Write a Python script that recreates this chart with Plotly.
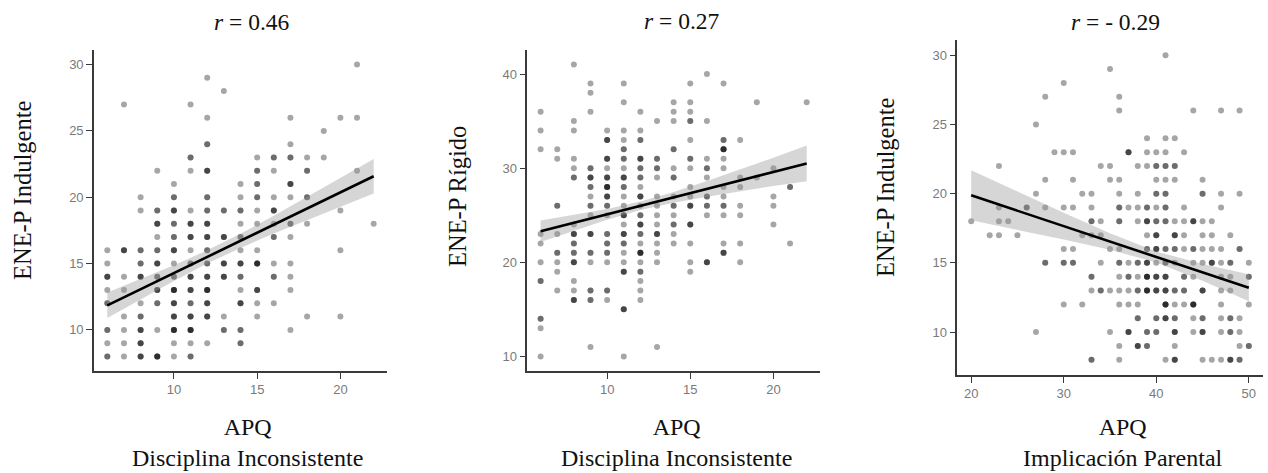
import numpy as np
import plotly.graph_objects as go

# ---------------- data ----------------
# Panel 1: APQ Disciplina Inconsistente vs ENE-P Indulgente  (n = overlapping points)
p1_x = [21, 12, 13, 7, 11, 12, 17, 20, 21, 19, 12, 17,
        11, 15, 16, 17, 18, 19,
        9, 11, 12, 15, 16, 18, 21,
        10, 14, 15, 17,
        8, 10, 12, 14, 15, 16, 17, 18,
        8, 9, 10, 11, 12, 13, 14, 15, 16, 20,
        9, 10, 11, 12, 14, 15, 16, 17, 18, 22,
        9, 10, 11, 12, 13, 14, 16, 17,
        6, 7, 8, 9, 10, 11, 12, 14, 15, 20,
        6, 8, 9, 10, 11, 12, 13, 14, 15, 16, 17,
        6, 7, 8, 9, 10, 11, 12, 13, 14, 16, 17,
        6, 7, 9, 10, 11, 12, 14, 15, 17,
        6, 8, 9, 10, 11, 12, 14, 15, 16,
        7, 8, 10, 11, 12, 13, 15, 18, 20,
        6, 7, 8, 9, 10, 11, 13, 14, 17,
        6, 7, 8, 10, 11, 12, 14,
        6, 7, 8, 9, 10, 11]
p1_y = [30, 29, 28, 27, 27, 26, 26, 26, 26, 25, 24, 24,
        23, 23, 23, 23, 23, 23,
        22, 22, 22, 22, 22, 22, 22,
        21, 21, 21, 21,
        20, 20, 20, 20, 20, 20, 20, 20,
        19, 19, 19, 19, 19, 19, 19, 19, 19, 19,
        18, 18, 18, 18, 18, 18, 18, 18, 18, 18,
        17, 17, 17, 17, 17, 17, 17, 17,
        16, 16, 16, 16, 16, 16, 16, 16, 16, 16,
        15, 15, 15, 15, 15, 15, 15, 15, 15, 15, 15,
        14, 14, 14, 14, 14, 14, 14, 14, 14, 14, 14,
        13, 13, 13, 13, 13, 13, 13, 13, 13,
        12, 12, 12, 12, 12, 12, 12, 12, 12,
        11, 11, 11, 11, 11, 11, 11, 11, 11,
        10, 10, 10, 10, 10, 10, 10, 10, 10,
        9, 9, 9, 9, 9, 9, 9,
        8, 8, 8, 8, 8, 8]
p1_n = [1, 1, 1, 1, 1, 1, 1, 1, 1, 1, 2, 1,
        2, 1, 2, 2, 1, 1,
        1, 1, 3, 2, 1, 2, 1,
        1, 1, 2, 3,
        1, 2, 2, 1, 2, 1, 1, 2,
        1, 2, 3, 1, 2, 2, 2, 1, 3, 1,
        3, 2, 3, 3, 1, 1, 1, 2, 1, 1,
        1, 2, 3, 3, 3, 2, 2, 1,
        1, 3, 2, 2, 3, 1, 2, 1, 1, 1,
        1, 2, 3, 1, 2, 2, 3, 3, 4, 1, 1,
        3, 1, 3, 2, 2, 3, 3, 3, 2, 2, 1,
        1, 1, 3, 4, 3, 4, 1, 3, 1,
        2, 1, 2, 3, 2, 3, 3, 1, 1,
        1, 2, 3, 3, 3, 1, 1, 1, 1,
        2, 1, 3, 1, 4, 4, 2, 2, 1,
        1, 1, 3, 1, 1, 1, 2,
        2, 1, 3, 4, 1, 2]

# Panel 2: APQ Disciplina Inconsistente vs ENE-P Rígido
p2_x = [8, 16, 9, 11, 15, 17, 9,
        11, 14, 15, 19, 22,
        6, 9, 12, 14, 15,
        8, 13, 14, 15, 16,
        6, 8, 10, 11, 12,
        10, 11, 12, 15, 17, 18,
        6, 7, 11, 14, 17,
        7, 8, 10, 11, 12, 13, 15, 16, 17,
        8, 9, 10, 11, 12, 13, 14, 15, 16, 17, 20,
        8, 9, 10, 11, 12, 13, 14, 16, 18, 19,
        9, 10, 11, 12, 15, 17, 18, 21,
        9, 10, 11, 12, 13, 14, 15, 16, 17, 20,
        7, 9, 10, 11, 12, 13, 14, 15, 16, 17, 18, 20,
        9, 10, 11, 12, 13, 14, 16, 17, 18,
        8, 11, 12, 13, 14, 15, 20,
        6, 7, 8, 9, 10, 11, 12, 13, 14,
        6, 8, 10, 11, 12, 13, 14, 15, 17, 18, 21,
        7, 8, 9, 10, 11, 12, 13, 17,
        6, 7, 8, 9, 10, 11, 12, 13, 15, 16, 18,
        7, 11, 12, 15,
        6, 8, 12,
        7, 8, 9, 10, 12,
        8, 9, 10, 12,
        11, 6, 6, 9, 13, 6, 11]
p2_y = [41, 40, 39, 39, 39, 39, 38,
        37, 37, 37, 37, 37,
        36, 36, 36, 36, 36,
        35, 35, 35, 35, 35,
        34, 34, 34, 34, 34,
        33, 33, 33, 33, 33, 33,
        32, 32, 32, 32, 32,
        31, 31, 31, 31, 31, 31, 31, 31, 31,
        30, 30, 30, 30, 30, 30, 30, 30, 30, 30, 30,
        29, 29, 29, 29, 29, 29, 29, 29, 29, 29,
        28, 28, 28, 28, 28, 28, 28, 28,
        27, 27, 27, 27, 27, 27, 27, 27, 27, 27,
        26, 26, 26, 26, 26, 26, 26, 26, 26, 26, 26, 26,
        25, 25, 25, 25, 25, 25, 25, 25, 25,
        24, 24, 24, 24, 24, 24, 24,
        23, 23, 23, 23, 23, 23, 23, 23, 23,
        22, 22, 22, 22, 22, 22, 22, 22, 22, 22, 22,
        21, 21, 21, 21, 21, 21, 21, 21,
        20, 20, 20, 20, 20, 20, 20, 20, 20, 20, 20,
        19, 19, 19, 19,
        18, 18, 18,
        17, 17, 17, 17, 17,
        16, 16, 16, 16,
        15, 14, 13, 11, 11, 10, 10]
p2_n = [1, 1, 1, 1, 1, 1, 1,
        1, 1, 1, 1, 1,
        1, 1, 1, 1, 1,
        1, 1, 1, 2, 1,
        1, 1, 1, 1, 1,
        3, 1, 2, 1, 2, 1,
        1, 1, 2, 2, 4,
        1, 1, 3, 2, 3, 2, 2, 1, 1,
        1, 2, 1, 1, 2, 2, 1, 1, 2, 1, 1,
        2, 3, 3, 3, 2, 1, 2, 1, 1, 1,
        2, 4, 2, 1, 1, 1, 1, 2,
        1, 3, 1, 3, 1, 1, 1, 2, 1, 1,
        2, 2, 2, 1, 1, 1, 2, 3, 2, 2, 1, 1,
        1, 1, 3, 2, 1, 1, 1, 1, 1,
        1, 1, 3, 1, 2, 3, 1,
        1, 1, 3, 3, 2, 3, 2, 3, 1,
        1, 2, 2, 2, 1, 1, 1, 1, 1, 1, 1,
        2, 2, 2, 2, 1, 4, 1, 3,
        1, 1, 3, 1, 1, 1, 1, 1, 1, 3, 1,
        1, 3, 2, 1,
        2, 1, 1,
        1, 1, 2, 2, 1,
        3, 2, 1, 1,
        3, 2, 1, 1, 1, 1, 1]

# Panel 3: APQ Implicación Parental vs ENE-P Indulgente
p3_x = [41, 35, 30, 28, 36, 36, 44, 47, 49, 27, 39, 41, 42,
        29, 30, 31, 37, 39, 40, 41, 43,
        23, 34, 35, 38, 39, 40, 41, 42,
        28, 31, 35, 36, 40, 41, 42, 45,
        27, 32, 33, 36, 38, 40, 41, 45, 47, 49,
        23, 26, 28, 30, 31, 33, 36, 37, 38, 39, 40, 41, 43, 47,
        20, 23, 24, 33, 34, 36, 38, 39, 40, 41, 42, 43, 44, 45, 46,
        22, 23, 25, 32, 33, 34, 39, 40, 42, 43, 45, 46, 48,
        30, 31, 35, 36, 39, 40, 41, 42, 43, 44, 45, 46, 47, 49,
        28, 30, 31, 34, 36, 37, 38, 39, 40, 41, 42, 44, 45, 46, 47, 48, 50,
        33, 36, 37, 38, 39, 40, 41, 43, 44, 47, 48, 50,
        33, 34, 35, 36, 37, 38, 39, 40, 41, 42, 43, 45, 47, 48,
        30, 32, 36, 37, 38, 41, 42, 43, 44, 47, 50,
        38, 40, 41, 42, 44, 45, 47, 48, 49,
        27, 35, 37, 39, 40, 42, 44, 45, 47, 48, 49,
        36, 38, 39, 42, 49, 50,
        33, 36, 41, 42, 45, 46, 47, 48, 49]
p3_y = [30, 29, 28, 27, 27, 26, 26, 26, 26, 25, 24, 24, 24,
        23, 23, 23, 23, 23, 23, 23, 23,
        22, 22, 22, 22, 22, 22, 22, 22,
        21, 21, 21, 21, 21, 21, 21, 21,
        20, 20, 20, 20, 20, 20, 20, 20, 20, 20,
        19, 19, 19, 19, 19, 19, 19, 19, 19, 19, 19, 19, 19, 19,
        18, 18, 18, 18, 18, 18, 18, 18, 18, 18, 18, 18, 18, 18, 18,
        17, 17, 17, 17, 17, 17, 17, 17, 17, 17, 17, 17, 17,
        16, 16, 16, 16, 16, 16, 16, 16, 16, 16, 16, 16, 16, 16,
        15, 15, 15, 15, 15, 15, 15, 15, 15, 15, 15, 15, 15, 15, 15, 15, 15,
        14, 14, 14, 14, 14, 14, 14, 14, 14, 14, 14, 14,
        13, 13, 13, 13, 13, 13, 13, 13, 13, 13, 13, 13, 13, 13,
        12, 12, 12, 12, 12, 12, 12, 12, 12, 12, 12,
        11, 11, 11, 11, 11, 11, 11, 11, 11,
        10, 10, 10, 10, 10, 10, 10, 10, 10, 10, 10,
        9, 9, 9, 9, 9, 9,
        8, 8, 8, 8, 8, 8, 8, 8, 8]
p3_n = [1, 1, 1, 1, 1, 1, 1, 1, 1, 1, 1, 1, 1,
        1, 1, 1, 3, 1, 1, 1, 1,
        1, 1, 1, 1, 1, 2, 2, 2,
        1, 1, 1, 1, 1, 1, 1, 1,
        1, 1, 1, 1, 1, 2, 2, 2, 1, 1,
        1, 2, 1, 1, 1, 1, 2, 1, 1, 2, 1, 2, 1, 1,
        1, 1, 1, 2, 1, 2, 1, 3, 2, 2, 1, 1, 3, 1, 1,
        1, 1, 1, 1, 1, 1, 1, 3, 3, 1, 1, 1, 1,
        1, 1, 1, 1, 2, 3, 2, 2, 1, 2, 1, 1, 1, 2,
        2, 2, 2, 1, 2, 1, 2, 3, 1, 2, 1, 1, 1, 3, 1, 2, 1,
        2, 1, 2, 1, 4, 3, 3, 2, 1, 1, 1, 2,
        1, 2, 1, 1, 1, 2, 4, 3, 3, 2, 2, 3, 1, 1,
        1, 1, 1, 1, 1, 4, 1, 1, 4, 1, 1,
        2, 2, 3, 2, 1, 2, 1, 2, 1,
        1, 1, 3, 2, 2, 3, 1, 3, 1, 2, 1,
        1, 3, 2, 1, 1, 2,
        2, 1, 1, 3, 1, 1, 1, 3, 2]

# Fitted lines with 95% bands
p1_fx = [6, 8, 10, 12, 14, 16, 18, 20, 22]
p1_fit = [11.85, 13.07, 14.28, 15.50, 16.71, 17.93, 19.15, 20.36, 21.58]
p1_lo = [10.89, 12.31, 13.69, 15.00, 16.18, 17.26, 18.29, 19.29, 20.28]
p1_hi = [12.81, 13.83, 14.87, 16.00, 17.24, 18.60, 20.01, 21.43, 22.88]

p2_fx = [6, 8, 10, 12, 14, 16, 18, 20, 22]
p2_fit = [23.3, 24.2, 25.1, 26.0, 26.9, 27.8, 28.7, 29.6, 30.5]
p2_lo = [22.15, 23.36, 24.53, 25.55, 26.33, 26.96, 27.55, 28.1, 28.6]
p2_hi = [24.45, 25.04, 25.67, 26.45, 27.47, 28.64, 29.85, 31.1, 32.4]

p3_fx = [20, 25, 30, 35, 40, 45, 50]
p3_fit = [19.88, 18.77, 17.65, 16.54, 15.43, 14.31, 13.2]
p3_lo = [18.07, 17.39, 16.68, 15.94, 15.03, 13.71, 12.23]
p3_hi = [21.69, 20.15, 18.62, 17.14, 15.83, 14.91, 14.17]

titles = ["<i>r</i> = 0.46", "<i>r</i> = 0.27", "<i>r</i> = - 0.29"]
xtitles = ["APQ<br>Disciplina Inconsistente", "APQ<br>Disciplina Inconsistente",
           "APQ<br>Implicación Parental"]
ytitles = ["ENE-P Indulgente", "ENE-P Rígido", "ENE-P Indulgente"]

# ---------------- layout geometry (pixels) ----------------
W, H = 1268, 473
def fx(p): return p / W
def fy(p): return 1 - p / H

panels = [
    dict(x=p1_x, y=p1_y, n=p1_n, fx=p1_fx, fit=p1_fit, lo=p1_lo, hi=p1_hi,
         dom=(94, 387, 50, 371), xr=[5.2, 22.8], yr=[6.9, 31.1],
         xt=[10, 15, 20], yt=[10, 15, 20, 25, 30],
         title_xy=(252, 22), xt_xy=(247, 442), yt_xy=(22, 190)),
    dict(x=p2_x, y=p2_y, n=p2_n, fx=p2_fx, fit=p2_fit, lo=p2_lo, hi=p2_hi,
         dom=(527.3, 820, 50, 371), xr=[5.2, 22.8], yr=[8.45, 42.55],
         xt=[10, 15, 20], yt=[10, 20, 30, 40],
         title_xy=(682, 21), xt_xy=(676, 442), yt_xy=(457, 197)),
    dict(x=p3_x, y=p3_y, n=p3_n, fx=p3_fx, fit=p3_fit, lo=p3_lo, hi=p3_hi,
         dom=(957.3, 1262.7, 40, 375), xr=[18.5, 51.5], yr=[6.9, 31.1],
         xt=[20, 30, 40, 50], yt=[10, 15, 20, 25, 30],
         title_xy=(1115, 22), xt_xy=(1123, 442), yt_xy=(885, 187)),
]

serif = "Liberation Serif, Times New Roman, serif"
sans = "Liberation Sans, Arial, sans-serif"

fig = go.Figure()
layout = dict(width=W, height=H, margin=dict(l=0, r=0, t=0, b=0),
              paper_bgcolor="white", plot_bgcolor="white", showlegend=False)
annotations = []

for i, p in enumerate(panels, start=1):
    xa = "x" if i == 1 else f"x{i}"
    ya = "y" if i == 1 else f"y{i}"
    xs = np.repeat(np.array(p["x"]), p["n"])
    ys = np.repeat(np.array(p["y"]), p["n"])
    fig.add_trace(go.Scatter(x=xs, y=ys, mode="markers", xaxis=xa, yaxis=ya,
                             marker=dict(size=6, color="rgba(0,0,0,0.35)",
                                         line=dict(width=0)),
                             hoverinfo="skip"))
    bx = list(p["fx"]) + list(p["fx"])[::-1]
    by = list(p["hi"]) + list(p["lo"])[::-1]
    fig.add_trace(go.Scatter(x=bx, y=by, mode="lines", fill="toself",
                             fillcolor="rgba(153,153,153,0.4)",
                             line=dict(width=0), xaxis=xa, yaxis=ya,
                             hoverinfo="skip"))
    fig.add_trace(go.Scatter(x=p["fx"], y=p["fit"], mode="lines",
                             line=dict(color="black", width=2.6),
                             xaxis=xa, yaxis=ya, hoverinfo="skip"))
    x0, x1, y0, y1 = p["dom"]
    axcommon = dict(showgrid=False, zeroline=False, showline=True,
                    linecolor="#3a3a3a", linewidth=1.6, ticks="outside",
                    ticklen=6, tickwidth=1.4, tickcolor="#3a3a3a",
                    tickfont=dict(family=sans, size=13, color="#7a7a7a"))
    layout["xaxis" if i == 1 else f"xaxis{i}"] = dict(
        domain=[fx(x0), fx(x1)], anchor=ya, range=p["xr"],
        tickvals=p["xt"], **axcommon)
    layout["yaxis" if i == 1 else f"yaxis{i}"] = dict(
        domain=[fy(y1), fy(y0)], anchor=xa, range=p["yr"],
        tickvals=p["yt"], **axcommon)
    tx, ty = p["title_xy"]
    annotations.append(dict(text=titles[i - 1], x=fx(tx), y=fy(ty),
                            xref="paper", yref="paper", showarrow=False,
                            xanchor="center", yanchor="middle",
                            font=dict(family=serif, size=23.5, color="#111")))
    tx, ty = p["xt_xy"]
    annotations.append(dict(text=xtitles[i - 1], x=fx(tx), y=fy(ty),
                            xref="paper", yref="paper", showarrow=False,
                            xanchor="center", yanchor="middle", align="center",
                            font=dict(family=serif, size=24, color="#111")))
    tx, ty = p["yt_xy"]
    annotations.append(dict(text=ytitles[i - 1], x=fx(tx), y=fy(ty),
                            xref="paper", yref="paper", showarrow=False,
                            xanchor="center", yanchor="middle", textangle=-90,
                            font=dict(family=serif, size=24.5, color="#111")))

layout["annotations"] = annotations
fig.update_layout(**layout)
fig.write_html("out.html")
